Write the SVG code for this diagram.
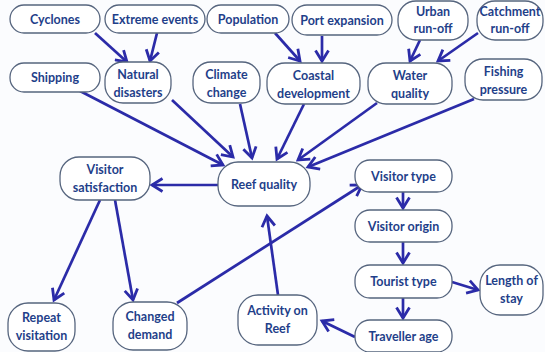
<svg xmlns="http://www.w3.org/2000/svg" width="545" height="352" viewBox="0 0 545 352">
<defs>
<marker id="arr" markerUnits="userSpaceOnUse" markerWidth="16" markerHeight="16" refX="12.5" refY="8" orient="auto">
<path d="M2,1.5 L12.5,8 L2,14.5" fill="none" stroke="#2b2ba8" stroke-width="2.8" stroke-linejoin="miter"/>
</marker>
<style>
.n rect{fill:#ffffff;stroke:#56657e;stroke-width:1.3}
.n text{font-family:Lato,"Open Sans","Liberation Sans",sans-serif;font-weight:bold;font-size:12.5px;fill:#1f3f8a;text-anchor:middle}
#edges line{stroke:#2b2ba8;stroke-width:2.7;marker-end:url(#arr)}
</style>
</defs>
<rect width="545" height="352" fill="#fbfcfe"/>
<g id="edges">
<line x1="95" y1="33" x2="127" y2="62"/>
<line x1="157" y1="33" x2="150" y2="61"/>
<line x1="275" y1="33" x2="300" y2="61"/>
<line x1="322" y1="36" x2="322" y2="61"/>
<line x1="420" y1="40" x2="410" y2="61"/>
<line x1="478" y1="33" x2="438" y2="61"/>
<line x1="80" y1="91" x2="223" y2="165"/>
<line x1="172" y1="100" x2="233" y2="157"/>
<line x1="240" y1="104" x2="252" y2="158"/>
<line x1="304" y1="104" x2="277" y2="159"/>
<line x1="377" y1="103" x2="298" y2="160"/>
<line x1="474" y1="99" x2="308" y2="167"/>
<line x1="218" y1="185" x2="152" y2="185"/>
<line x1="100" y1="200" x2="54" y2="300"/>
<line x1="115" y1="200" x2="133" y2="300"/>
<line x1="177" y1="303" x2="362" y2="185"/>
<line x1="278" y1="295" x2="267" y2="216"/>
<line x1="403" y1="192" x2="403" y2="208"/>
<line x1="403" y1="242" x2="403" y2="263"/>
<line x1="452" y1="282" x2="478" y2="290"/>
<line x1="403" y1="298" x2="403" y2="318"/>
<line x1="355" y1="337" x2="322" y2="321"/>
</g>
<g id="cyclones" class="n"><rect x="10" y="5" width="90" height="28" rx="14"/><text x="55" y="23.5">Cyclones</text></g>
<g id="extreme-events" class="n"><rect x="105" y="5" width="100" height="28" rx="14"/><text x="155" y="23.5">Extreme events</text></g>
<g id="population" class="n"><rect x="207" y="5" width="82" height="28" rx="14"/><text x="248" y="23.5">Population</text></g>
<g id="port-expansion" class="n"><rect x="292" y="5" width="100" height="30" rx="15"/><text x="342" y="24.5">Port expansion</text></g>
<g id="urban-runoff" class="n"><rect x="398" y="1" width="70" height="39" rx="18"/><text x="433" y="16">Urban</text><text x="433" y="33">run-off</text></g>
<g id="catchment-runoff" class="n"><rect x="477" y="1" width="66" height="39" rx="18"/><text x="510" y="16">Catchment</text><text x="510" y="33">run-off</text></g>
<g id="shipping" class="n"><rect x="10" y="63" width="90" height="29" rx="14"/><text x="55" y="82">Shipping</text></g>
<g id="natural-disasters" class="n"><rect x="105" y="62" width="66" height="41" rx="18"/><text x="138" y="79">Natural</text><text x="138" y="97">disasters</text></g>
<g id="climate-change" class="n"><rect x="193" y="62" width="67" height="41" rx="18"/><text x="226.5" y="79">Climate</text><text x="226.5" y="97">change</text></g>
<g id="coastal-development" class="n"><rect x="267" y="63" width="93" height="41" rx="18"/><text x="313.5" y="80">Coastal</text><text x="313.5" y="98">development</text></g>
<g id="water-quality" class="n"><rect x="368" y="63" width="84" height="41" rx="18"/><text x="410" y="80">Water</text><text x="410" y="98">quality</text></g>
<g id="fishing-pressure" class="n"><rect x="465" y="59" width="77" height="41" rx="18"/><text x="503.5" y="76">Fishing</text><text x="503.5" y="94">pressure</text></g>
<g id="reef-quality" class="n"><rect x="218" y="162" width="92" height="44" rx="20"/><text x="264" y="188.5">Reef quality</text></g>
<g id="visitor-satisfaction" class="n"><rect x="60" y="157" width="90" height="43" rx="19"/><text x="105" y="174">Visitor</text><text x="105" y="192">satisfaction</text></g>
<g id="repeat-visitation" class="n"><rect x="8" y="303" width="67" height="48" rx="20"/><text x="41.5" y="322">Repeat</text><text x="41.5" y="340">visitation</text></g>
<g id="changed-demand" class="n"><rect x="113" y="302" width="74" height="48" rx="20"/><text x="150" y="321">Changed</text><text x="150" y="339">demand</text></g>
<g id="activity-on-reef" class="n"><rect x="238" y="295" width="79" height="50" rx="20"/><text x="277.5" y="315">Activity on</text><text x="277.5" y="333">Reef</text></g>
<g id="visitor-type" class="n"><rect x="355" y="160" width="97" height="32" rx="15"/><text x="403.5" y="180.5">Visitor type</text></g>
<g id="visitor-origin" class="n"><rect x="355" y="210" width="97" height="32" rx="15"/><text x="403.5" y="230.5">Visitor origin</text></g>
<g id="tourist-type" class="n"><rect x="355" y="265" width="97" height="33" rx="15"/><text x="403.5" y="286">Tourist type</text></g>
<g id="length-of-stay" class="n"><rect x="480" y="265" width="63" height="50" rx="20"/><text x="511.5" y="285">Length of</text><text x="511.5" y="303">stay</text></g>
<g id="traveller-age" class="n"><rect x="355" y="320" width="97" height="32" rx="15"/><text x="403.5" y="340.5">Traveller age</text></g>
</svg>
